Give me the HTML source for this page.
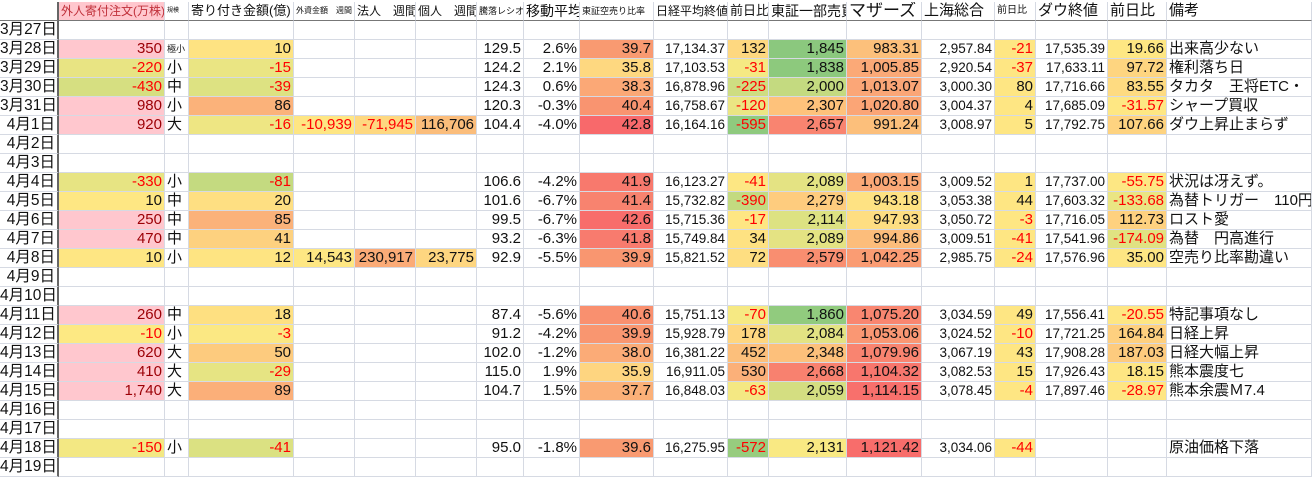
<!DOCTYPE html>
<html><head><meta charset="utf-8">
<style>
html,body{margin:0;padding:0;background:#fff;width:1312px;height:467px;overflow:hidden}
body{font-family:"Liberation Sans","Noto Sans CJK JP",sans-serif;}
.g{position:absolute;left:0;top:2px;display:grid;grid-template-columns:59px 106px 24px 105px 61px 61px 61px 47px 56px 74px 74px 41px 78px 75px 73px 41px 72px 59px 145px;grid-auto-rows:19px;}
.r{display:contents}
.g>.r>div{box-sizing:border-box;padding:0 2px;border-right:1px solid #d6dae3;border-bottom:1px solid #d6dae3;white-space:nowrap;overflow:hidden;font-size:15px;text-align:right;line-height:18px;color:#111}
.g>.h>div{font-size:12px;text-align:left;border-bottom:1px solid #777}
.g>.r>div.d{text-align:right;font-size:15.5px;border-right:2px solid #666;padding:0 2px 0 0}
.g>.r>div.s{font-size:13.5px}
.g>.r>div.l{text-align:left}
.g>.r>div.n{color:#f00}
.g>.r>div.p{background:#ffc7ce;color:#9c0006}
</style></head><body>
<div class="g">
<div class="r h"><div class="d"></div><div class="p" style="color:#c0303a">外人寄付注文(万株)</div><div style="font-size:6px">規模</div><div style="font-size:13px">寄り付き金額(億)</div><div style="font-size:8px">外資金額　週間</div><div>法人　週間</div><div>個人　週間</div><div style="font-size:9px">騰落レシオ</div><div style="font-size:14px">移動平均</div><div style="font-size:9px">東証空売り比率</div><div>日経平均終値</div><div style="font-size:13px">前日比</div><div style="font-size:14px">東証一部売買</div><div style="font-size:17px">マザーズ</div><div style="font-size:15px">上海総合</div><div style="font-size:10px">前日比</div><div style="font-size:15px">ダウ終値</div><div style="font-size:15px">前日比</div><div style="font-size:15px">備考</div></div>
<div class="r"><div class="d">3月27日</div><div></div><div></div><div></div><div></div><div></div><div></div><div></div><div></div><div></div><div></div><div></div><div></div><div></div><div></div><div></div><div></div><div></div><div></div></div>
<div class="r"><div class="d">3月28日</div><div class="p">350</div><div class="l" style="font-size:9px">極小</div><div style="background:#fee382">10</div><div></div><div></div><div></div><div>129.5</div><div>2.6%</div><div style="background:#f99a71">39.7</div><div class="s">17,134.37</div><div style="background:#fed880">132</div><div style="background:#8bc87e">1,845</div><div style="background:#fcc07b">983.31</div><div class="s">2,957.84</div><div class="n" style="background:#fee683">-21</div><div class="s">17,535.39</div><div style="background:#fee783">19.66</div><div class="l">出来高少ない</div></div>
<div class="r"><div class="d">3月29日</div><div class="n" style="background:#e8e483">-220</div><div class="l">小</div><div class="n" style="background:#eae583">-15</div><div></div><div></div><div></div><div>124.2</div><div>2.1%</div><div style="background:#fed880">35.8</div><div class="s">17,103.53</div><div class="n" style="background:#f5e983">-31</div><div style="background:#8dc97d">1,838</div><div style="background:#fba977">1,005.85</div><div class="s">2,920.54</div><div class="n" style="background:#fee683">-37</div><div class="s">17,633.11</div><div style="background:#fed580">97.72</div><div class="l">権利落ち日</div></div>
<div class="r"><div class="d">3月30日</div><div class="n" style="background:#d6df81">-430</div><div class="l">中</div><div class="n" style="background:#dde282">-39</div><div></div><div></div><div></div><div>124.3</div><div>0.6%</div><div style="background:#fba876">38.3</div><div class="s">16,878.96</div><div class="n" style="background:#cedd82">-225</div><div style="background:#c4da80">2,000</div><div style="background:#fba677">1,013.07</div><div class="s">3,000.30</div><div style="background:#fee683">80</div><div class="s">17,716.66</div><div style="background:#fedb81">83.55</div><div class="l">タカタ　王将ETC・</div></div>
<div class="r"><div class="d">3月31日</div><div class="p">980</div><div class="l">小</div><div style="background:#fbb27a">86</div><div></div><div></div><div></div><div>120.3</div><div>-0.3%</div><div style="background:#f99470">40.4</div><div class="s">16,758.67</div><div class="n" style="background:#ebe583">-120</div><div style="background:#fec27b">2,307</div><div style="background:#fba576">1,020.80</div><div class="s">3,004.37</div><div style="background:#fee683">4</div><div class="s">17,685.09</div><div class="n" style="background:#fee783">-31.57</div><div class="l">シャープ買収</div></div>
<div class="r"><div class="d">4月1日</div><div class="p">920</div><div class="l">大</div><div class="n" style="background:#eee683">-16</div><div class="n" style="background:#fee683">-10,939</div><div class="n" style="background:#fed880">-71,945</div><div style="background:#fbbd7b">116,706</div><div>104.4</div><div>-4.0%</div><div style="background:#f8696b">42.8</div><div class="s">16,164.16</div><div class="n" style="background:#8fca7e">-595</div><div style="background:#f98470">2,657</div><div style="background:#fcbf7b">991.24</div><div class="s">3,008.97</div><div style="background:#fee683">5</div><div class="s">17,792.75</div><div style="background:#fed380">107.66</div><div class="l">ダウ上昇止まらず</div></div>
<div class="r"><div class="d">4月2日</div><div></div><div></div><div></div><div></div><div></div><div></div><div></div><div></div><div></div><div></div><div></div><div></div><div></div><div></div><div></div><div></div><div></div><div></div></div>
<div class="r"><div class="d">4月3日</div><div></div><div></div><div></div><div></div><div></div><div></div><div></div><div></div><div></div><div></div><div></div><div></div><div></div><div></div><div></div><div></div><div></div><div></div></div>
<div class="r"><div class="d">4月4日</div><div class="n" style="background:#e7e483">-330</div><div class="l">小</div><div class="n" style="background:#c4da80">-81</div><div></div><div></div><div></div><div>106.6</div><div>-4.2%</div><div style="background:#f8796d">41.9</div><div class="s">16,123.27</div><div class="n" style="background:#fde783">-41</div><div style="background:#e4e383">2,089</div><div style="background:#fba977">1,003.15</div><div class="s">3,009.52</div><div style="background:#fee683">1</div><div class="s">17,737.00</div><div class="n" style="background:#fde783">-55.75</div><div class="l">状況は冴えず。</div></div>
<div class="r"><div class="d">4月5日</div><div style="background:#fee783">10</div><div class="l">中</div><div style="background:#fedf82">20</div><div></div><div></div><div></div><div>101.6</div><div>-6.7%</div><div style="background:#f8836f">41.4</div><div class="s">15,732.82</div><div class="n" style="background:#c3da80">-390</div><div style="background:#fecc7e">2,279</div><div style="background:#fee283">943.18</div><div class="s">3,053.38</div><div style="background:#fee683">44</div><div class="s">17,603.32</div><div class="n" style="background:#eae583">-133.68</div><div class="l">為替トリガー　110円</div></div>
<div class="r"><div class="d">4月6日</div><div class="p">250</div><div class="l">中</div><div style="background:#fbb27a">85</div><div></div><div></div><div></div><div>99.5</div><div>-6.7%</div><div style="background:#f86d6b">42.6</div><div class="s">15,715.36</div><div class="n" style="background:#fee683">-17</div><div style="background:#dde282">2,114</div><div style="background:#fede82">947.93</div><div class="s">3,050.72</div><div class="n" style="background:#fee683">-3</div><div class="s">17,716.05</div><div style="background:#fed17f">112.73</div><div class="l">ロスト愛</div></div>
<div class="r"><div class="d">4月7日</div><div class="p">470</div><div class="l">中</div><div style="background:#fdd17f">41</div><div></div><div></div><div></div><div>93.2</div><div>-6.3%</div><div style="background:#f87b6e">41.8</div><div class="s">15,749.84</div><div style="background:#fee282">34</div><div style="background:#e4e383">2,089</div><div style="background:#fcbd7b">994.86</div><div class="s">3,009.51</div><div class="n" style="background:#fee683">-41</div><div class="s">17,541.96</div><div class="n" style="background:#e0e282">-174.09</div><div class="l">為替　円高進行</div></div>
<div class="r"><div class="d">4月8日</div><div style="background:#fee683">10</div><div class="l">小</div><div style="background:#fee482">12</div><div style="background:#fee783">14,543</div><div style="background:#fbab77">230,917</div><div style="background:#fed680">23,775</div><div>92.9</div><div>-5.5%</div><div style="background:#f99670">39.9</div><div class="s">15,821.52</div><div style="background:#fede81">72</div><div style="background:#f98e70">2,579</div><div style="background:#fa9c73">1,042.25</div><div class="s">2,985.75</div><div class="n" style="background:#fee683">-24</div><div class="s">17,576.96</div><div style="background:#fee683">35.00</div><div class="l">空売り比率勘違い</div></div>
<div class="r"><div class="d">4月9日</div><div></div><div></div><div></div><div></div><div></div><div></div><div></div><div></div><div></div><div></div><div></div><div></div><div></div><div></div><div></div><div></div><div></div><div></div></div>
<div class="r"><div class="d">4月10日</div><div></div><div></div><div></div><div></div><div></div><div></div><div></div><div></div><div></div><div></div><div></div><div></div><div></div><div></div><div></div><div></div><div></div><div></div></div>
<div class="r"><div class="d">4月11日</div><div class="p">260</div><div class="l">中</div><div style="background:#fee081">18</div><div></div><div></div><div></div><div>87.4</div><div>-5.6%</div><div style="background:#f9906f">40.6</div><div class="s">15,751.13</div><div class="n" style="background:#f6e983">-70</div><div style="background:#91cb7e">1,860</div><div style="background:#f98670">1,075.20</div><div class="s">3,034.59</div><div style="background:#fee683">49</div><div class="s">17,556.41</div><div class="n" style="background:#fee683">-20.55</div><div class="l">特記事項なし</div></div>
<div class="r"><div class="d">4月12日</div><div class="n" style="background:#fde983">-10</div><div class="l">小</div><div class="n" style="background:#fbe883">-3</div><div></div><div></div><div></div><div>91.2</div><div>-4.2%</div><div style="background:#f99670">39.9</div><div class="s">15,928.79</div><div style="background:#fed680">178</div><div style="background:#e3e383">2,084</div><div style="background:#fa9773">1,053.06</div><div class="s">3,024.52</div><div class="n" style="background:#fee683">-10</div><div class="s">17,721.25</div><div style="background:#fed07f">164.84</div><div class="l">日経上昇</div></div>
<div class="r"><div class="d">4月13日</div><div class="p">620</div><div class="l">大</div><div style="background:#fdcb7e">50</div><div></div><div></div><div></div><div>102.0</div><div>-1.2%</div><div style="background:#fbab77">38.0</div><div class="s">16,381.22</div><div style="background:#fcbf7b">452</div><div style="background:#fdc07b">2,348</div><div style="background:#f98470">1,079.96</div><div class="s">3,067.19</div><div style="background:#fee683">43</div><div class="s">17,908.28</div><div style="background:#fdcb7e">187.03</div><div class="l">日経大幅上昇</div></div>
<div class="r"><div class="d">4月14日</div><div class="p">410</div><div class="l">大</div><div class="n" style="background:#e6e483">-29</div><div></div><div></div><div></div><div>115.0</div><div>1.9%</div><div style="background:#fed580">35.9</div><div class="s">16,911.05</div><div style="background:#fbb079">530</div><div style="background:#f8816f">2,668</div><div style="background:#f8766d">1,104.32</div><div class="s">3,082.53</div><div style="background:#fee683">15</div><div class="s">17,926.43</div><div style="background:#fee683">18.15</div><div class="l">熊本震度七</div></div>
<div class="r"><div class="d">4月15日</div><div class="p">1,740</div><div class="l">大</div><div style="background:#fbaf79">89</div><div></div><div></div><div></div><div>104.7</div><div>1.5%</div><div style="background:#fbb078">37.7</div><div class="s">16,848.03</div><div class="n" style="background:#f4e883">-63</div><div style="background:#d4de81">2,059</div><div style="background:#f8706c">1,114.15</div><div class="s">3,078.45</div><div class="n" style="background:#fee683">-4</div><div class="s">17,897.46</div><div class="n" style="background:#fee683">-28.97</div><div class="l">熊本余震Ｍ7.4</div></div>
<div class="r"><div class="d">4月16日</div><div></div><div></div><div></div><div></div><div></div><div></div><div></div><div></div><div></div><div></div><div></div><div></div><div></div><div></div><div></div><div></div><div></div><div></div></div>
<div class="r"><div class="d">4月17日</div><div></div><div></div><div></div><div></div><div></div><div></div><div></div><div></div><div></div><div></div><div></div><div></div><div></div><div></div><div></div><div></div><div></div><div></div></div>
<div class="r"><div class="d">4月18日</div><div class="n" style="background:#f3e883">-150</div><div class="l">小</div><div class="n" style="background:#dbe182">-41</div><div></div><div></div><div></div><div>95.0</div><div>-1.8%</div><div style="background:#f99a71">39.6</div><div class="s">16,275.95</div><div class="n" style="background:#97cc7e">-572</div><div style="background:#f9e983">2,131</div><div style="background:#f86d6b">1,121.42</div><div class="s">3,034.06</div><div class="n" style="background:#fee683">-44</div><div class="s"></div><div></div><div class="l">原油価格下落</div></div>
<div class="r"><div class="d">4月19日</div><div></div><div></div><div></div><div></div><div></div><div></div><div></div><div></div><div></div><div></div><div></div><div></div><div></div><div></div><div></div><div></div><div></div><div></div></div>
</div>
</body></html>
